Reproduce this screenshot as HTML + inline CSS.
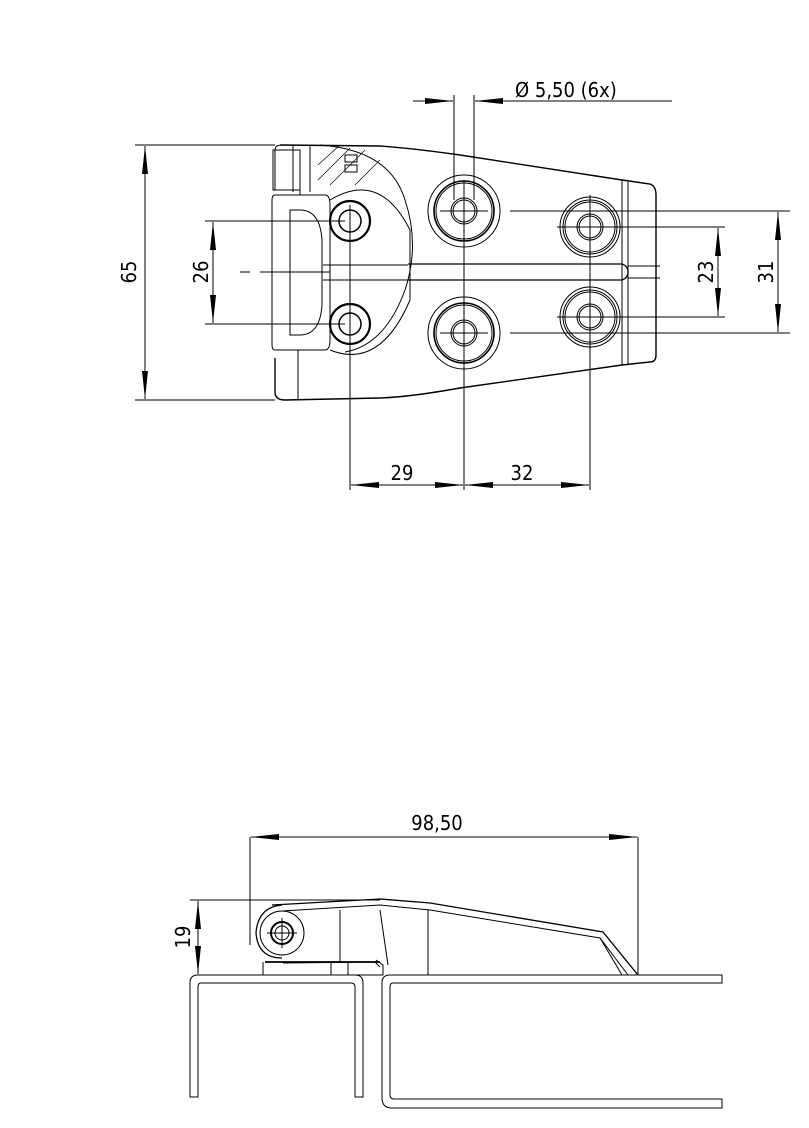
<!DOCTYPE html>
<html><head><meta charset="utf-8"><style>
html,body{margin:0;padding:0;background:#fff}
svg{display:block}
text{font-family:"DejaVu Sans Condensed","Liberation Sans Narrow","Liberation Sans",sans-serif;font-size:20px;fill:#000}
</style></head><body>
<svg width="809" height="1128" viewBox="0 0 809 1128" xmlns="http://www.w3.org/2000/svg">
<defs>
<marker id="a" viewBox="0 0 10 10" refX="10" refY="5" markerWidth="28" markerHeight="10" markerUnits="userSpaceOnUse" orient="auto-start-reverse" preserveAspectRatio="none"><path d="M0,2 L10,5 L0,8 Z" fill="#000"/></marker>
</defs>
<g fill="none" stroke="#000" stroke-width="1">
<!-- TOP VIEW body -->
<path d="M280,145 L380,146 Q410,148 460,155 L622,180 L650,184 Q656,186 656,195 L656,355 Q656,362 650,362 L622,365 L460,388 Q410,397 380,398 L285,400 Q275,400 275,392 L275,358" stroke-width="1.4"/>
<path d="M275,190 L275,150 Q275,145 282,145"/>
<path d="M273,150 L273,190 L300,190 L300,150 Z M293,145 L293,192 M310,145 L310,192"/>
<path d="M275,195 L325,195 Q330,195 330,205 L330,340 Q330,350 325,350 L275,350 Q272,350 272,345 L272,200 Q272,195 275,195"/>
<path d="M300,210 Q320,210 322,240 L322,305 Q320,335 300,335 L290,335 L290,210 Z"/>
<path d="M330,200 Q380,170 410,230 L410,300 Q380,370 330,350"/>
<path d="M320,145 Q390,150 405,200 Q420,245 405,290 Q385,345 345,352"/>
<path d="M345,155 L357,155 L357,162 L345,162 Z M345,165 L357,165 L357,172 L345,172 Z"/>
<path d="M318,165 L340,145 M318,180 L350,148 M330,185 L365,150 M355,185 L380,160" stroke-width="0.7"/>
<path d="M298,350 L298,400 M300,195 L300,190"/>
<path d="M323,265 L408,265 M323,280 L408,280"/>
<path d="M408,264 L622,264 Q628,266 628,272 Q628,278 622,280 L408,280" stroke-width="1.3"/>
<path d="M622,180 L622,365 M628,182 L628,364"/>
<path d="M628,266 L660,266 M628,278 L660,278"/>
<!-- circles -->
<circle cx="464" cy="211" r="36"/><circle cx="464" cy="211" r="30" stroke-width="1.6"/><circle cx="464" cy="211" r="28"/><circle cx="464" cy="211" r="13"/><circle cx="464" cy="211" r="11"/>
<circle cx="464" cy="333" r="36"/><circle cx="464" cy="333" r="30" stroke-width="1.6"/><circle cx="464" cy="333" r="28"/><circle cx="464" cy="333" r="13"/><circle cx="464" cy="333" r="11"/>
<circle cx="590" cy="227" r="30"/><circle cx="590" cy="227" r="27"/><circle cx="590" cy="227" r="25"/><circle cx="590" cy="227" r="13"/><circle cx="590" cy="227" r="11"/>
<circle cx="590" cy="317" r="30"/><circle cx="590" cy="317" r="27"/><circle cx="590" cy="317" r="25"/><circle cx="590" cy="317" r="13"/><circle cx="590" cy="317" r="11"/>
<circle cx="350" cy="221" r="20" stroke-width="2.2"/><circle cx="350" cy="221" r="11" stroke-width="1.5"/>
<circle cx="350" cy="324" r="20" stroke-width="2.2"/><circle cx="350" cy="324" r="11" stroke-width="1.5"/>
<!-- center lines -->
<path d="M464,180 L464,490 M590,195 L590,490 M350,205 L350,490 M240,272 L250,272 M260,272 L330,272 M440,211 L488,211 M510,211 L790,211 M440,333 L488,333 M510,333 L790,333 M557,227 L725,227 M557,317 L725,317 M205,221 L345,221 M205,324 L345,324"/>
<!-- dimensions top -->
<path d="M135,145 L275,145 M135,400 L275,400"/>
<line x1="145" y1="272" x2="145" y2="146" marker-end="url(#a)"/><line x1="145" y1="272" x2="145" y2="399" marker-end="url(#a)"/>
<line x1="213" y1="272" x2="213" y2="222" marker-end="url(#a)"/><line x1="213" y1="272" x2="213" y2="323" marker-end="url(#a)"/>
<line x1="718" y1="272" x2="718" y2="228" marker-end="url(#a)"/><line x1="718" y1="272" x2="718" y2="316" marker-end="url(#a)"/>
<line x1="778" y1="272" x2="778" y2="212" marker-end="url(#a)"/><line x1="778" y1="272" x2="778" y2="332" marker-end="url(#a)"/>
<line x1="407" y1="485" x2="351" y2="485" marker-end="url(#a)"/><line x1="407" y1="485" x2="463" y2="485" marker-end="url(#a)"/>
<line x1="527" y1="485" x2="465" y2="485" marker-end="url(#a)"/><line x1="527" y1="485" x2="589" y2="485" marker-end="url(#a)"/>
<path d="M454,95 L454,200 M474,95 L474,200"/>
<line x1="413" y1="101" x2="453" y2="101" marker-end="url(#a)"/>
<line x1="672" y1="101" x2="475" y2="101" marker-end="url(#a)"/>
<!-- BOTTOM VIEW -->
<path d="M250,837 L250,945 M638,837 L638,975 M190,900 L380,900"/>
<line x1="444" y1="837" x2="251" y2="837" marker-end="url(#a)"/><line x1="444" y1="837" x2="637" y2="837" marker-end="url(#a)"/>
<line x1="198" y1="937" x2="198" y2="901" marker-end="url(#a)"/><line x1="198" y1="937" x2="198" y2="974" marker-end="url(#a)"/>
<!-- plates -->
<path d="M198,975 L355,975 M190,983 Q190,975 198,975 M355,975 Q363,975 363,983 L363,1097 L355,1097 L355,987 Q355,983 351,983 L201,983 Q198,983 198,987 L198,1097 L190,1097 L190,983"/>
<path d="M390,975 L722,975 L722,983 L393,983 Q390,983 390,987 L390,1095 Q390,1099 394,1099 L722,1099 L722,1108 L392,1108 Q382,1108 382,1098 L382,983 Q382,975 390,975"/>
<!-- hinge -->
<path d="M272,905 L380,899 L430,903 L603,932 L638,975 M282,958 Q258,958 256,933 Q258,907 282,905" stroke-width="1.3"/>
<path d="M282,911 L380,905 L430,910 L600,938 L628,975 M283,963 L375,962 L380,967"/>
<path d="M600,938 L622,975"/>
<circle cx="282" cy="933" r="22"/><circle cx="282" cy="933" r="11" stroke-width="2"/><circle cx="282" cy="933" r="7"/>
<path d="M282,918 L282,948 M267,933 L297,933"/>
<path d="M263,962 L263,975 L383,975 L383,965 L376,960 M331,962 L331,975 M348,962 L348,975 M380,910 L388,965 M428,910 L428,975 M340,910 L340,962"/>
<path d="M265,962 L380,962" stroke-width="1.8"/>
</g>
<text transform="translate(136,272) rotate(-90)" text-anchor="middle">65</text>
<text transform="translate(208,272) rotate(-90)" text-anchor="middle">26</text>
<text transform="translate(713,272) rotate(-90)" text-anchor="middle">23</text>
<text transform="translate(773,272) rotate(-90)" text-anchor="middle">31</text>
<text x="402" y="480" text-anchor="middle">29</text>
<text x="522" y="480" text-anchor="middle">32</text>
<text x="515" y="97">Ø  5,50   (6x)</text>
<text x="437" y="830" text-anchor="middle">98,50</text>
<text transform="translate(190,937) rotate(-90)" text-anchor="middle">19</text>
</svg>
</body></html>
